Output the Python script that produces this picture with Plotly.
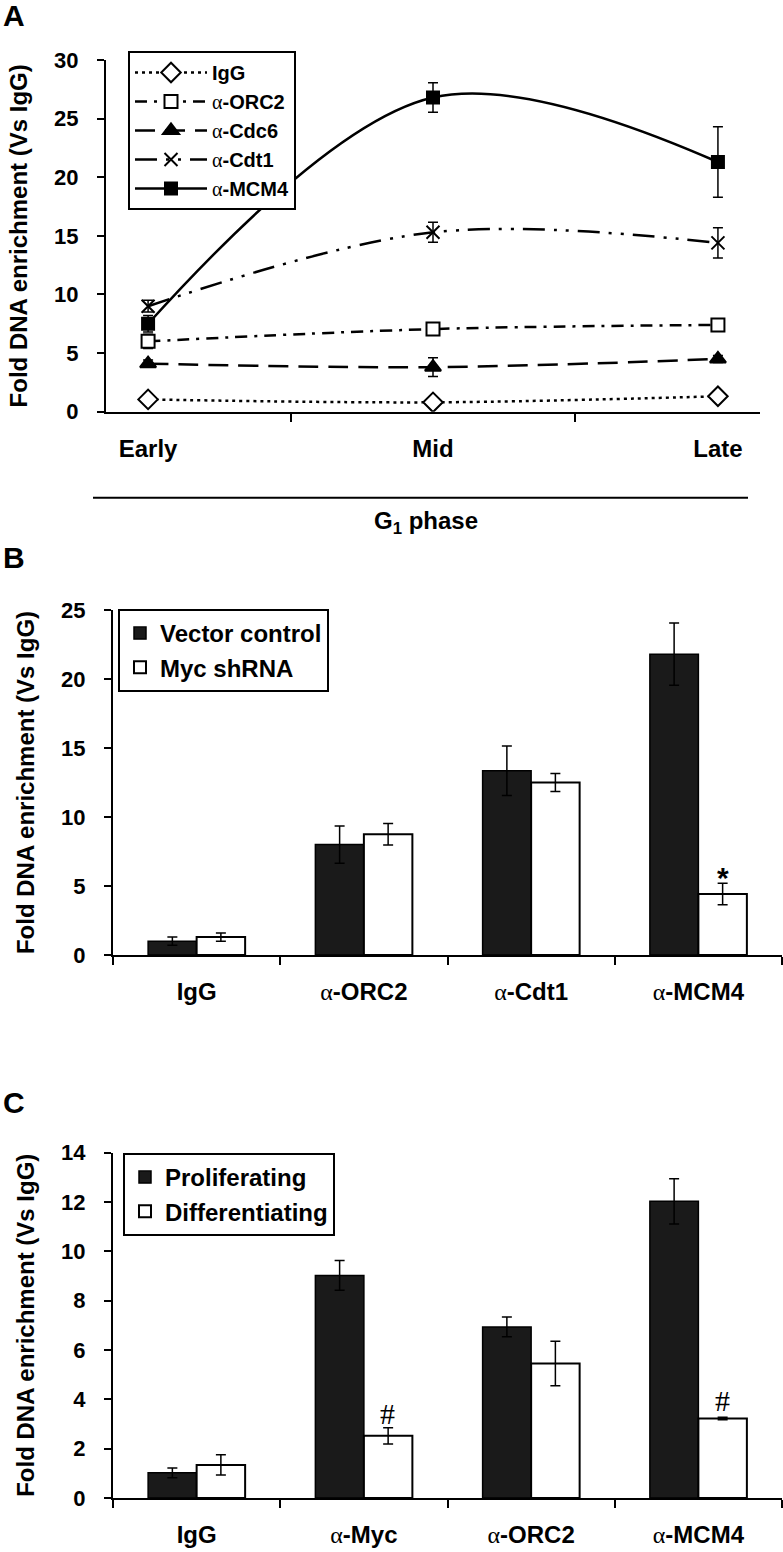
import plotly.graph_objects as go

W, H = 783, 1552

# ---------------- Panel A data ----------------
phases = ["Early", "Mid", "Late"]
a_igg = [1.05, 0.80, 1.32]
a_igg_err = [0.1, 0.1, 0.15]
a_orc2 = [6.0, 7.05, 7.4]
a_orc2_err = [0.6, 0.3, 0.5]
a_cdc6 = [4.1, 3.8, 4.5]
a_cdc6_err = [0.3, 0.8, 0.3]
a_cdt1 = [9.0, 15.3, 14.4]
a_cdt1_err = [0.5, 0.85, 1.3]
a_mcm4 = [7.5, 26.8, 21.3]
a_mcm4_err = [0.7, 1.25, 3.0]

# ---------------- Panel B data ----------------
b_cats = ["IgG", "α-ORC2", "α-Cdt1", "α-MCM4"]
b_vector = [1.0, 8.0, 13.35, 21.8]
b_vector_err = [0.3, 1.35, 1.8, 2.25]
b_myc = [1.3, 8.75, 12.5, 4.42]
b_myc_err = [0.3, 0.78, 0.65, 0.78]

# ---------------- Panel C data ----------------
c_cats = ["IgG", "α-Myc", "α-ORC2", "α-MCM4"]
c_prolif = [1.02, 9.02, 6.93, 12.02]
c_prolif_err = [0.2, 0.6, 0.4, 0.92]
c_diff = [1.34, 2.52, 5.45, 3.22]
c_diff_err = [0.41, 0.33, 0.9, 0.05]

FONT = "Liberation Sans, Arial, Helvetica, sans-serif"
ALPHA = "<span style='font-family:Liberation Serif, Times New Roman, serif;font-weight:normal'>α</span>"


def styl(s):
    return s.replace("α", ALPHA)


def px_x(p):
    return p / W


def px_y(p):
    return 1 - p / H


fig = go.Figure()

# ---- Panel A traces ----
a_series = [
    ("IgG", a_igg, a_igg_err, "diamond", 15, "3px,4px", "white"),
    ("α-ORC2", a_orc2, a_orc2_err, "square", 13, "12px,7px,3px,7px", "white"),
    ("α-Cdc6", a_cdc6, a_cdc6_err, "triangle-up", 14, "20px,10px", "black"),
    ("α-Cdt1", a_cdt1, a_cdt1_err, "x-thin-open", 13, "22px,9px,3px,9px,3px,9px", "black"),
    ("α-MCM4", a_mcm4, a_mcm4_err, "square", 12, "solid", "black"),
]
for name, vals, errs, sym, size, dash, fill in a_series:
    fig.add_trace(go.Scatter(
        x=phases, y=vals, name=styl(name), mode="lines+markers",
        line=dict(color="black", width=2.5, dash=dash, shape="spline", smoothing=1.0),
        marker=dict(symbol=sym, size=size, color=fill,
                    line=dict(color="black", width=2)),
        error_y=dict(type="data", array=errs, visible=True, color="black", thickness=1.5, width=5),
        xaxis="x", yaxis="y", legend="legend",
    ))

# ---- Panel B traces ----
fig.add_trace(go.Bar(
    x=b_cats, y=b_vector, name="Vector control",
    marker=dict(color="#1a1a1a", line=dict(color="black", width=1.5)),
    error_y=dict(type="data", array=b_vector_err, visible=True, color="black", thickness=1.5, width=5),
    xaxis="x2", yaxis="y2", legend="legend2",
))
fig.add_trace(go.Bar(
    x=b_cats, y=b_myc, name="Myc shRNA",
    marker=dict(color="white", line=dict(color="black", width=2)),
    error_y=dict(type="data", array=b_myc_err, visible=True, color="black", thickness=1.5, width=5),
    xaxis="x2", yaxis="y2", legend="legend2",
))

# ---- Panel C traces ----
fig.add_trace(go.Bar(
    x=c_cats, y=c_prolif, name="Proliferating",
    marker=dict(color="#1a1a1a", line=dict(color="black", width=1.5)),
    error_y=dict(type="data", array=c_prolif_err, visible=True, color="black", thickness=1.5, width=5),
    xaxis="x3", yaxis="y3", legend="legend3",
))
fig.add_trace(go.Bar(
    x=c_cats, y=c_diff, name="Differentiating",
    marker=dict(color="white", line=dict(color="black", width=2)),
    error_y=dict(type="data", array=c_diff_err, visible=True, color="black", thickness=1.5, width=5),
    xaxis="x3", yaxis="y3", legend="legend3",
))

tickfont = dict(family=FONT, size=22, color="black", weight="bold")
catfont = dict(family=FONT, size=24, color="black", weight="bold")
titlefont = dict(family=FONT, size=24, color="black", weight="bold")
legfont = dict(family=FONT, size=20, color="black", weight="bold")
legfont2 = dict(family=FONT, size=24, color="black", weight="bold")

common_x = dict(showline=True, linecolor="black", linewidth=2, ticks="outside", ticklen=8,
                tickwidth=2, tickcolor="black", tickson="boundaries", showgrid=False,
                zeroline=False, tickfont=catfont, ticklabelstandoff=14, type="category",
                automargin=False)
common_y = dict(showline=True, linecolor="black", linewidth=2, ticks="outside", ticklen=7,
                tickwidth=2, tickcolor="black", showgrid=False, zeroline=False,
                tickfont=tickfont, ticklabelstandoff=14, automargin=False,
                title=dict(text="Fold DNA enrichment (Vs IgG)", font=titlefont, standoff=20))

legend_common = dict(bgcolor="white", bordercolor="black", borderwidth=2,
                     xanchor="left", yanchor="top", traceorder="normal", tracegroupgap=0)

fig.update_layout(
    template="none",
    width=W, height=H, margin=dict(l=0, r=0, t=0, b=0, autoexpand=False),
    paper_bgcolor="white", plot_bgcolor="white",
    font=dict(family=FONT, color="black"),
    barmode="group", bargap=0.42, bargroupgap=0,
    xaxis=dict(domain=[px_x(106), px_x(760)], anchor="y", tickvals=phases, ticktext=phases, **common_x),
    yaxis=dict(domain=[px_y(411.7), px_y(60)], anchor="x", range=[0, 30], dtick=5, **common_y),
    xaxis2=dict(domain=[px_x(113), px_x(782)], anchor="y2", tickvals=b_cats,
                ticktext=[styl(c) for c in b_cats], **common_x),
    yaxis2=dict(domain=[px_y(955), px_y(610)], anchor="x2", range=[0, 25], dtick=5, **common_y),
    xaxis3=dict(domain=[px_x(113), px_x(782)], anchor="y3", tickvals=c_cats,
                ticktext=[styl(c) for c in c_cats], **common_x),
    yaxis3=dict(domain=[px_y(1498), px_y(1152.5)], anchor="x3", range=[0, 14], dtick=2, **common_y),
    legend=dict(x=px_x(128), y=px_y(51), font=legfont, itemwidth=72, **legend_common),
    legend2=dict(x=px_x(118), y=px_y(609), font=legfont2, itemwidth=30, **legend_common),
    legend3=dict(x=px_x(123), y=px_y(1153), font=legfont2, itemwidth=30, **legend_common),
    showlegend=True,
)

# horizontal G1 phase line and label
fig.add_shape(type="line", xref="paper", yref="paper", x0=px_x(93), x1=px_x(748),
              y0=px_y(497.7), y1=px_y(497.7), line=dict(color="black", width=2))
fig.add_annotation(xref="paper", yref="paper", x=px_x(426), y=px_y(522), text="G<sub>1</sub> phase",
                   showarrow=False, font=dict(family=FONT, size=24, color="black", weight="bold"),
                   xanchor="center", yanchor="middle")

# panel letters
for letter, yy in [("A", 16), ("B", 557), ("C", 1102)]:
    fig.add_annotation(xref="paper", yref="paper", x=px_x(1), y=px_y(yy), text=letter,
                       showarrow=False, xanchor="left", yanchor="middle",
                       font=dict(family=FONT, size=30, color="black", weight="bold"))

# significance marks
fig.add_annotation(xref="x2", yref="y2", x="α-MCM4", y=5.65, xshift=25, text="*", showarrow=False,
                   font=dict(family=FONT, size=30, color="black", weight="bold"), yanchor="middle")
for cat, yv in [("α-Myc", 3.44), ("α-MCM4", 3.97)]:
    fig.add_annotation(xref="x3", yref="y3", x=cat, y=yv, xshift=24, text="#", showarrow=False,
                       font=dict(family="Liberation Serif, Times New Roman, serif", size=30, color="black"),
                       yanchor="middle")

fig.write_html("out.html", config={"displayModeBar": False},
               post_script="document.body.style.margin='0';document.body.style.overflow='hidden';")
